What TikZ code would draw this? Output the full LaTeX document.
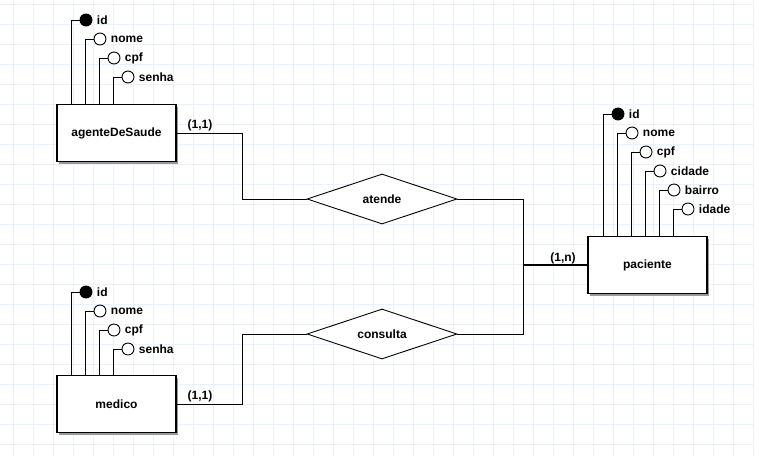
\documentclass[tikz,border=0pt]{standalone}
\usepackage{fontspec}
\setmainfont{Liberation Sans}
\usetikzlibrary{shapes.geometric,shadows}

\definecolor{corgrade}{RGB}{234,241,249}

\tikzset{
  entidade/.style={draw, line width=1.2pt, fill=white, minimum width=119pt,
    minimum height=57pt, inner sep=0pt,
    drop shadow={shadow xshift=2pt, shadow yshift=-2pt, fill=gray!80, opacity=1}},
  relacao/.style={diamond, draw, line width=0.9pt, fill=white, aspect=3,
    minimum width=150pt, minimum height=50pt, inner sep=0pt},
  atrib/.style={circle, draw, line width=0.9pt, fill=white, minimum size=12pt, inner sep=0pt},
  chave/.style={atrib, fill=black},
  liga/.style={line width=0.9pt},
  grelha/.style={draw=corgrade, line width=1pt},
}

\begin{document}
\begin{tikzpicture}[x=1pt, y=-1pt, every node/.style={font=\bfseries\fontsize{12}{14}\selectfont}]
  \useasboundingbox[fill=white] (0,0) rectangle (770,456);
  % grade de fundo
  \foreach \x in {13,33,...,753} \draw[grelha] (\x,0) -- (\x,456);
  \foreach \y in {4,24,...,444} \draw[grelha] (0,\y) -- (753,\y);

  % entidades
  \node[entidade] (agente) at (116.5,133) {agenteDeSaude};
  \node[entidade] (medico) at (116.5,404) {medico};
  \node[entidade] (paciente) at (647.5,265) {paciente};

  % relacionamentos
  \node[relacao] (atende) at (382,199) {atende};
  \node[relacao] (consulta) at (382,334) {consulta};

  % atributos
  \foreach \txt/\sty [count=\i from 0] in {id/chave,nome/atrib,cpf/atrib,senha/atrib} {
    \node[\sty, label={[label distance=1pt]right:\txt}] (ag\i) at (86+14*\i, 20+19*\i) {};
    \draw[liga] (ag\i.west) -| ([xshift=-15pt]ag\i.center |- agente.north);
    \node[\sty, label={[label distance=1pt]right:\txt}] (md\i) at (86+14*\i, 292+19*\i) {};
    \draw[liga] (md\i.west) -| ([xshift=-15pt]md\i.center |- medico.north);
  }
  \foreach \txt/\sty [count=\i from 0] in {id/chave,nome/atrib,cpf/atrib,cidade/atrib,bairro/atrib,idade/atrib} {
    \node[\sty, label={[label distance=1pt]right:\txt}] (pc\i) at (618+14*\i, 114+19*\i) {};
    \draw[liga] (pc\i.west) -| ([xshift=-15pt]pc\i.center |- paciente.north);
  }

  % ligacoes
  \draw[liga] (agente.east) -- ++(65.5,0) |- (atende.west);
  \draw[liga] (medico.east) -- ++(65.5,0) |- (consulta.west);
  \draw[liga] (atende.east) -- ++(65.5,0) |- (consulta.east);
  \coordinate (junta) at (522.5,265);
  \draw[line width=2pt] (junta) -- (paciente.west);

  % cardinalidades
  \node (card1) at (200,125) {(1,1)};
  \node (card2) at (200,396) {(1,1)};
  \node (card3) at (563,258) {(1,n)};
\end{tikzpicture}
\end{document}
